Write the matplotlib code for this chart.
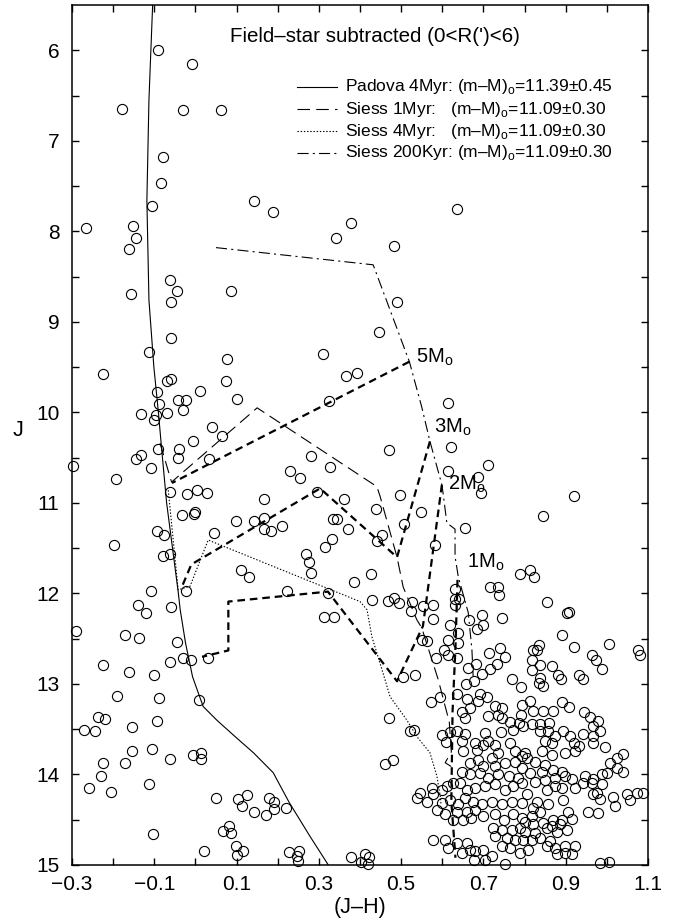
import numpy as np
import matplotlib
matplotlib.use("Agg")
import matplotlib.pyplot as plt
from matplotlib.ticker import FixedLocator, FuncFormatter

plt.rcParams['font.family'] = ['Liberation Sans', 'DejaVu Sans']
plt.rcParams['mathtext.fontset'] = 'custom'
plt.rcParams['mathtext.rm'] = 'Liberation Sans'
plt.rcParams['lines.scale_dashes'] = False

# ---- isochrones (J-H, J) ----
padova_x = [-0.104, -0.113, -0.118, -0.113, -0.101, -0.090, -0.082, -0.070, -0.042, -0.037, -0.024,
            -0.007, 0.007, 0.019, 0.052, 0.096, 0.141, 0.189, 0.228, 0.278, 0.323]
padova_J = [5.5, 6.55, 7.66, 8.76, 9.5, 10.0, 10.41, 11.0, 11.98, 12.18, 12.55,
            12.92, 13.1, 13.25, 13.40, 13.58, 13.76, 13.98, 14.31, 14.68, 15.0]

siess1_x = [-0.086, -0.058, 0.150, 0.441, 0.449, 0.490, 0.505, 0.538, 0.550, 0.590, 0.617, 0.622, 0.607, 0.628]
siess1_J = [10.34, 10.77, 9.95, 10.82, 10.93, 11.60, 11.93, 12.29, 12.38, 12.95, 13.42, 13.75, 13.87, 13.93]

siess4_x = [-0.066, -0.042, -0.013, 0.031, 0.400, 0.417, 0.429, 0.456, 0.473, 0.514, 0.538, 0.570, 0.587, 0.595, 0.597]
siess4_J = [10.86, 11.96, 11.92, 11.41, 12.09, 12.18, 12.48, 12.88, 13.14, 13.40, 13.58, 13.76, 14.02, 14.24, 14.33]

siess200_x = [0.050, 0.432, 0.520, 0.550, 0.570, 0.599, 0.603, 0.611, 0.631, 0.631, 0.639, 0.663, 0.672, 0.675]
siess200_J = [8.18, 8.37, 9.44, 9.94, 10.32, 10.80, 10.93, 11.22, 11.29, 11.59, 11.82, 12.21, 12.62, 12.92]

# ---- thick dashed tracks from the mass points ----
track5_x = [0.520, -0.057]
track5_J = [9.44, 10.78]
track3_x = [0.570, 0.490, 0.303, -0.010, -0.035]
track3_J = [10.32, 11.60, 10.84, 11.68, 11.95]
track2_x = [0.599, 0.553, 0.490, 0.322, 0.080, 0.080, 0.016]
track2_J = [10.80, 12.36, 12.97, 11.98, 12.09, 12.63, 12.70]
track1_x = [0.637, 0.632, 0.625, 0.622, 0.632]
track1_J = [11.85, 12.60, 13.30, 14.30, 14.92]

mass_labels = ['5M$_\\mathrm{o}$', '3M$_\\mathrm{o}$', '2M$_\\mathrm{o}$', '1M$_\\mathrm{o}$']
mass_label_x = [0.536, 0.580, 0.614, 0.659]
mass_label_J = [9.39, 10.16, 10.80, 11.66]

legend_labels = ['Padova 4Myr: (m\u2013M)$_\\mathrm{o}$=11.39\u00b10.45',
                 'Siess 1Myr:   (m\u2013M)$_\\mathrm{o}$=11.09\u00b10.30',
                 'Siess 4Myr:   (m\u2013M)$_\\mathrm{o}$=11.09\u00b10.30',
                 'Siess 200Kyr: (m\u2013M)$_\\mathrm{o}$=11.09\u00b10.30']

# ---- stars: (J-H, J) ----
field_bright = np.array([
    [-0.090, 6.00], [-0.008, 6.15], [-0.179, 6.65], [-0.031, 6.66], [0.062, 6.66], [-0.079, 7.18],
    [-0.083, 7.47], [-0.106, 7.72], [0.142, 7.67], [0.189, 7.79], [-0.265, 7.96], [-0.152, 7.94],
    [-0.144, 8.07], [-0.161, 8.19], [0.342, 8.07], [-0.063, 8.54], [-0.046, 8.66], [-0.156, 8.69],
    [0.086, 8.66], [-0.060, 8.78], [0.635, 7.75], [0.377, 7.91], [0.483, 8.16], [0.489, 8.78],
    [0.445, 9.11], [0.311, 9.35], [0.366, 9.60], [0.392, 9.56], [0.615, 9.90], [0.325, 9.87],
    [-0.060, 9.18], [-0.113, 9.33], [0.076, 9.41], [-0.225, 9.58], [-0.068, 9.65], [-0.060, 9.63],
    [0.074, 9.65], [-0.093, 9.78], [0.012, 9.76], [-0.042, 9.86], [-0.024, 9.86], [0.102, 9.85],
    [-0.089, 9.91], [-0.030, 9.97], [-0.133, 10.02], [-0.070, 10.01], [-0.096, 10.03], [-0.101, 10.08],
    [0.040, 10.16], [0.065, 10.26], [-0.007, 10.32], [-0.091, 10.40], [-0.041, 10.40], [-0.043, 10.50],
    [0.033, 10.51], [-0.132, 10.47], [-0.144, 10.52], [-0.108, 10.62], [-0.298, 10.59], [-0.192, 10.74],
    [0.282, 10.48], [0.327, 10.60], [0.231, 10.65], [0.253, 10.72], [-0.062, 10.88], [-0.021, 10.90],
    [0.003, 10.86], [0.027, 10.89], [0.166, 10.96], [0.295, 10.88], [-0.033, 11.13], [-0.001, 11.10],
    [-0.003, 11.12], [0.099, 11.20], [0.142, 11.20], [0.167, 11.17], [0.167, 11.29], [0.183, 11.31],
    [0.210, 11.25], [0.334, 11.18], [0.345, 11.18], [-0.094, 11.31], [-0.076, 11.35], [0.046, 11.33],
    [0.331, 11.40], [0.316, 11.49], [-0.199, 11.46], [-0.080, 11.59], [-0.062, 11.56], [0.269, 11.56],
    [0.277, 11.65], [0.280, 11.77], [0.111, 11.74], [0.130, 11.82], [-0.109, 11.97], [-0.023, 11.97],
    [0.223, 11.97], [0.323, 11.99], [-0.139, 12.13], [-0.121, 12.22], [-0.060, 12.15], [0.313, 12.26],
    [0.338, 12.26],
    [0.620, 10.38], [0.470, 10.42], [0.615, 10.65], [0.712, 10.58], [0.686, 10.71], [0.693, 10.89],
    [0.920, 10.92], [0.498, 10.91], [0.362, 10.96], [0.439, 11.07], [0.548, 11.10], [0.846, 11.15],
    [0.507, 11.23], [0.654, 11.28], [0.370, 11.29], [0.454, 11.36], [0.441, 11.42], [0.582, 11.47],
    [0.427, 11.78], [0.385, 11.87], [0.789, 11.78], [0.813, 11.74], [0.823, 11.82], [0.631, 11.95],
    [0.631, 12.06], [0.641, 12.06], [0.631, 12.13], [0.716, 11.93], [0.735, 11.93], [0.738, 12.02],
    [0.429, 12.07], [0.467, 12.08], [0.483, 12.05], [0.496, 12.11], [0.527, 12.09], [0.523, 12.19],
    [0.552, 12.14], [0.578, 12.13], [0.854, 12.10], [0.902, 12.22], [0.908, 12.21], [0.696, 12.24],
])

field_faint = np.array([
    [-0.291, 12.42], [-0.171, 12.46], [-0.136, 12.49], [-0.044, 12.54], [-0.031, 12.71], [-0.011, 12.73],
    [0.031, 12.71], [-0.062, 12.76], [-0.225, 12.79], [-0.161, 12.87], [-0.101, 12.90], [-0.190, 13.13],
    [-0.088, 13.15], [0.009, 13.18], [-0.236, 13.37], [-0.219, 13.39], [-0.272, 13.51], [-0.245, 13.52],
    [-0.153, 13.48], [-0.094, 13.41], [-0.106, 13.72], [-0.153, 13.74], [-0.224, 13.87], [-0.171, 13.87],
    [-0.062, 13.83], [-0.005, 13.78], [0.014, 13.76], [0.014, 13.83], [-0.230, 14.02], [-0.112, 14.11],
    [-0.258, 14.15], [-0.205, 14.19], [0.050, 14.26], [0.103, 14.27], [0.126, 14.23], [0.112, 14.35],
    [0.142, 14.41], [0.180, 14.26], [0.191, 14.30], [0.191, 14.38], [0.171, 14.45], [0.220, 14.37],
    [-0.104, 14.66], [0.068, 14.62], [0.082, 14.57], [0.086, 14.65], [0.099, 14.79], [0.102, 14.89],
    [0.116, 14.84], [0.022, 14.84], [0.228, 14.86], [0.252, 14.84], [0.248, 14.90], [0.250, 14.96],
    [0.378, 14.91], [0.402, 14.97], [0.411, 14.88], [0.423, 14.91], [0.419, 14.99], [0.471, 13.38],
    [0.461, 13.88], [0.480, 13.84],
])

cluster = np.array([
    [0.577, 12.28], [0.619, 12.35], [0.639, 12.44], [0.665, 12.29], [0.684, 12.39], [0.700, 12.35],
    [0.744, 12.27], [0.615, 12.51], [0.639, 12.55], [0.562, 12.53], [0.550, 12.51], [0.603, 12.62],
    [0.615, 12.68], [0.635, 12.71], [0.584, 12.71], [0.740, 12.60], [0.753, 12.70], [0.714, 12.66],
    [0.662, 12.82], [0.681, 12.78], [0.697, 12.89], [0.716, 12.84], [0.732, 12.78], [0.534, 12.90],
    [0.505, 12.92], [0.657, 13.00], [0.678, 12.97], [0.769, 12.95], [0.791, 13.03], [0.573, 13.20],
    [0.595, 13.14], [0.635, 13.11], [0.659, 13.17], [0.686, 13.19], [0.692, 13.11], [0.708, 13.14],
    [0.728, 13.24], [0.744, 13.27], [0.793, 13.23], [0.647, 13.31], [0.655, 13.38], [0.667, 13.27],
    [0.710, 13.35], [0.736, 13.34], [0.746, 13.38], [0.765, 13.42], [0.791, 13.34], [0.787, 13.43],
    [0.522, 13.52], [0.532, 13.51], [0.599, 13.56], [0.619, 13.53], [0.635, 13.52], [0.655, 13.55],
    [0.704, 13.54], [0.743, 13.53], [0.773, 13.51], [0.795, 13.47], [0.608, 13.64], [0.647, 13.63],
    [0.680, 13.65], [0.710, 13.63], [0.765, 13.65],
    [0.890, 12.46], [0.921, 12.59], [1.005, 12.56], [1.075, 12.63], [1.081, 12.68], [0.836, 12.57],
    [0.821, 12.63], [0.830, 12.63], [0.819, 12.73], [0.838, 12.79], [0.817, 12.85], [0.866, 12.80],
    [0.882, 12.90], [0.888, 12.94], [0.933, 12.90], [0.941, 12.94], [0.963, 12.68], [0.974, 12.73],
    [0.988, 12.84], [0.838, 12.93], [0.834, 12.99], [0.844, 13.02], [0.813, 13.19], [0.821, 13.30],
    [0.846, 13.30], [0.870, 13.30], [0.890, 13.20], [0.907, 13.25], [0.945, 13.31], [0.958, 13.36],
    [0.979, 13.41], [0.966, 13.46], [0.983, 13.52], [0.817, 13.44], [0.838, 13.44], [0.860, 13.43],
    [0.838, 13.52], [0.858, 13.52], [0.874, 13.57], [0.893, 13.52], [0.911, 13.58], [0.941, 13.55],
    [0.967, 13.57], [0.850, 13.63],
    [0.684, 13.73], [0.700, 13.67], [0.728, 13.67], [0.736, 13.76], [0.777, 13.74], [0.793, 13.80],
    [0.651, 13.74], [0.667, 13.87], [0.688, 13.84], [0.700, 13.91], [0.720, 13.82], [0.728, 13.91],
    [0.753, 13.87], [0.777, 13.86], [0.793, 13.93], [0.647, 13.97], [0.667, 14.00], [0.692, 13.98],
    [0.712, 14.04], [0.736, 14.00], [0.761, 14.02], [0.785, 14.04], [0.546, 14.20], [0.538, 14.26],
    [0.574, 14.15], [0.578, 14.22], [0.562, 14.30], [0.599, 14.17], [0.611, 14.13], [0.627, 14.09],
    [0.643, 14.09], [0.659, 14.17], [0.680, 14.15], [0.704, 14.13], [0.728, 14.11], [0.753, 14.17],
    [0.773, 14.13], [0.793, 14.09], [0.599, 14.32], [0.619, 14.28], [0.639, 14.33], [0.655, 14.26],
    [0.675, 14.30], [0.696, 14.33], [0.720, 14.30], [0.744, 14.33], [0.769, 14.30], [0.793, 14.32],
    [0.586, 14.39], [0.607, 14.44], [0.635, 14.41], [0.659, 14.41], [0.680, 14.39], [0.651, 14.50],
    [0.671, 14.48], [0.700, 14.46], [0.728, 14.44], [0.749, 14.50], [0.773, 14.44], [0.793, 14.48],
    [0.627, 14.50], [0.724, 14.59], [0.744, 14.61], [0.769, 14.61], [0.789, 14.59], [0.728, 14.68],
    [0.757, 14.70], [0.777, 14.72], [0.744, 14.79], [0.765, 14.81], [0.578, 14.72], [0.607, 14.72],
    [0.615, 14.81], [0.635, 14.76], [0.659, 14.76], [0.667, 14.83], [0.647, 14.87], [0.680, 14.85],
    [0.700, 14.83], [0.720, 14.90], [0.789, 14.87], [0.676, 14.94], [0.704, 14.94], [0.753, 14.99],
    [0.866, 13.65], [0.919, 13.65], [0.933, 13.68], [0.967, 13.65], [0.996, 13.70], [0.801, 13.76],
    [0.805, 13.82], [0.842, 13.74], [0.866, 13.78], [0.898, 13.76], [0.923, 13.74], [0.825, 13.86],
    [0.850, 13.89], [1.024, 13.82], [1.040, 13.77], [1.008, 13.87], [1.024, 13.93], [1.040, 13.97],
    [0.813, 13.98], [0.842, 13.97], [0.870, 13.95], [0.890, 13.97], [0.825, 14.08], [0.850, 14.06],
    [0.874, 14.04], [0.898, 14.02], [0.915, 14.05], [0.947, 14.02], [0.967, 14.05], [0.988, 14.00],
    [1.000, 13.98], [0.943, 14.09], [0.963, 14.09], [0.988, 14.11], [0.854, 14.17], [0.874, 14.13],
    [0.890, 14.15], [0.923, 14.15], [0.805, 14.22], [0.894, 14.28], [0.975, 14.21], [0.983, 14.27],
    [0.967, 14.22], [1.016, 14.25], [1.048, 14.22], [1.056, 14.28], [1.073, 14.21], [1.089, 14.20],
    [1.020, 14.35], [0.830, 14.30], [0.858, 14.33], [0.821, 14.37], [0.817, 14.46], [0.838, 14.41],
    [0.870, 14.50], [0.890, 14.50], [0.906, 14.41], [0.915, 14.49], [0.955, 14.41], [0.979, 14.43],
    [0.801, 14.52], [0.821, 14.55], [0.846, 14.54], [0.866, 14.57], [0.886, 14.55], [0.801, 14.63],
    [0.825, 14.65], [0.854, 14.59], [0.878, 14.63], [0.902, 14.61], [0.797, 14.72], [0.817, 14.72],
    [0.838, 14.70], [0.862, 14.74], [0.809, 14.83], [0.854, 14.79], [0.874, 14.81], [0.898, 14.79],
    [0.923, 14.79], [0.878, 14.88], [0.898, 14.87], [0.915, 14.88], [0.984, 14.98], [1.006, 14.97],
])

# ---- figure ----
fig = plt.figure(figsize=(6.8, 9.22), dpi=100)
ax = fig.add_axes([72 / 680, 1 - 865 / 922, 576 / 680, 860 / 922])

thin = dict(color='black', lw=0.8)
styles = [dict(ls='-'), dict(dashes=(9, 4.5)), dict(dashes=(1, 1.3)), dict(dashes=(8, 3, 1.5, 3))]
iso = [(padova_x, padova_J), (siess1_x, siess1_J), (siess4_x, siess4_J), (siess200_x, siess200_J)]
for (xs, js), st in zip(iso, styles):
    ax.plot(xs, js, **thin, **st)

for xs, js in [(track5_x, track5_J), (track3_x, track3_J), (track2_x, track2_J), (track1_x, track1_J)]:
    ax.plot(xs, js, color='black', lw=1.6, dashes=(5.5, 3.5))

for arr in [field_bright, field_faint, cluster]:
    ax.plot(arr[:, 0], arr[:, 1], 'o', ms=7.3, mfc='none', mec='black', mew=0.8, clip_on=False)

for lab, lx, ly in zip(mass_labels, mass_label_x, mass_label_J):
    ax.text(lx, ly, lab, fontsize=14.5, ha='left', va='center')

# legend drawn by hand
leg_y = [0.905, 0.879, 0.853, 0.828]
for y, st, lab in zip(leg_y, styles, legend_labels):
    ax.plot([0.391, 0.460], [y, y], transform=ax.transAxes, **thin, **st)
    ax.text(0.474, y, lab, transform=ax.transAxes, fontsize=12.5, ha='left', va='center')

ax.text(0.526, 0.963, "Field\u2013star subtracted (0<R(')<6)", transform=ax.transAxes,
        fontsize=14.8, ha='center', va='center')

ax.set_xlim(-0.3, 1.1)
ax.set_ylim(15, 5.5)

xt = np.round(np.arange(-0.3, 1.101, 0.1), 1)
yt = np.arange(6, 15.01, 0.5)
ax.xaxis.set_major_locator(FixedLocator(xt))
ax.yaxis.set_major_locator(FixedLocator(yt))
ax.xaxis.set_major_formatter(FuncFormatter(
    lambda v, p: ('%.1f' % v).replace('-', '\u2212') if int(round(v * 10)) % 2 != 0 else ''))
ax.yaxis.set_major_formatter(FuncFormatter(lambda v, p: '%d' % v if abs(v - round(v)) < 1e-6 else ''))
ax.tick_params(direction='in', top=True, right=True, length=5, width=1.0, labelsize=15)
ax.tick_params(axis='x', pad=7)
ax.tick_params(axis='y', pad=9)
for s in ax.spines.values():
    s.set_linewidth(1.1)

ax.set_xlabel('(J\u2013H)', fontsize=15.5)
ax.xaxis.set_label_coords(0.5, -0.049)
ax.xaxis.label.set_va('center')
ax.set_ylabel('J', fontsize=15.5, rotation=0)
ax.yaxis.set_label_coords(-0.094, 0.505)
ax.yaxis.label.set_va('center')
ax.yaxis.label.set_ha('center')

fig.savefig('out.png', dpi=100)
